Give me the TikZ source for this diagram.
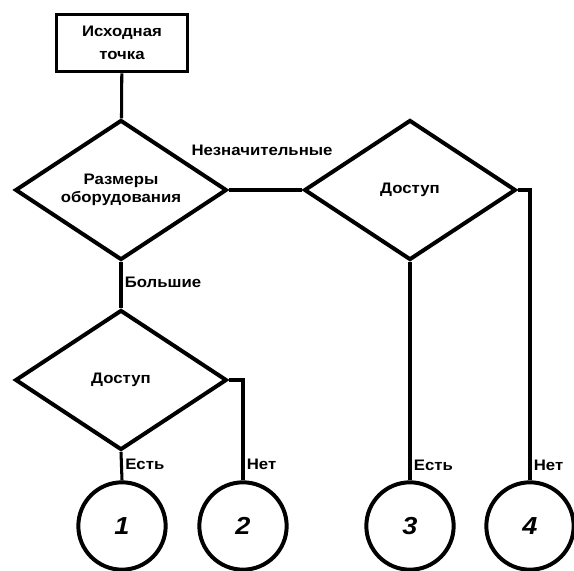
\documentclass[tikz,border=0pt]{standalone}
\usepackage{fontspec}
\setmainfont{Liberation Sans}[FakeStretch=1.1]
\usetikzlibrary{shapes.geometric}

\begin{document}
\begin{tikzpicture}[x=0.03cm, y=-0.03cm,
                    font=\fontsize{13}{15}\selectfont\bfseries,
                    line width=2.6pt,
                    ]
    \tikzstyle{start}=[rectangle, draw, line width=3.4pt, minimum width=3.93cm, minimum height=1.71cm, inner sep=0pt, align=center]
    \tikzstyle{decision}=[diamond, draw, line width=3.4pt, aspect=1.5, minimum width=6.35cm, minimum height=4.2cm, inner sep=0pt, align=center]
    \tikzstyle{outcome}=[circle, draw, line width=3.4pt, minimum size=2.62cm, inner sep=0pt, font=\fontsize{21}{24}\selectfont\bfseries\itshape];
    \tikzstyle{answer}=[right, inner sep=2pt];

    \useasboundingbox (0,0) rectangle (574,571);

    % shapes
    \node[start] (origin) at (122,43) {Исходная\\[5pt]точка};
    \node[decision] (size) at (121,190) {Размеры\\оборудования};
    \node[decision] (accessR) at (410,190) {Доступ};
    \node[decision] (accessL) at (121,380) {Доступ};

    \node[outcome] (out1) at (122,526) {1};
    \node[outcome] (out2) at (243,526) {2};
    \node[outcome] (out3) at (410,526) {3};
    \node[outcome] (out4) at (530,526) {4};

    % labels
    \node (small) at (262,150) {Незначительные};

    % connectors
    \draw (origin) -- (size);
    \draw (size.east) -- (accessR.west);
    \draw (size.south) -- node[answer, pos=0.45] {Большие} (accessL.north);
    \draw (accessL.south) -- node[answer, pos=0.45] {Есть} (out1.north);
    \draw (accessL.east) -| node[answer, pos=0.92] {Нет} (out2.north);
    \draw (accessR.south) -- node[answer, pos=0.93] {Есть} (out3.north);
    \draw (accessR.east) -| node[answer, pos=0.975] {Нет} (out4.north);
\end{tikzpicture}
\end{document}
